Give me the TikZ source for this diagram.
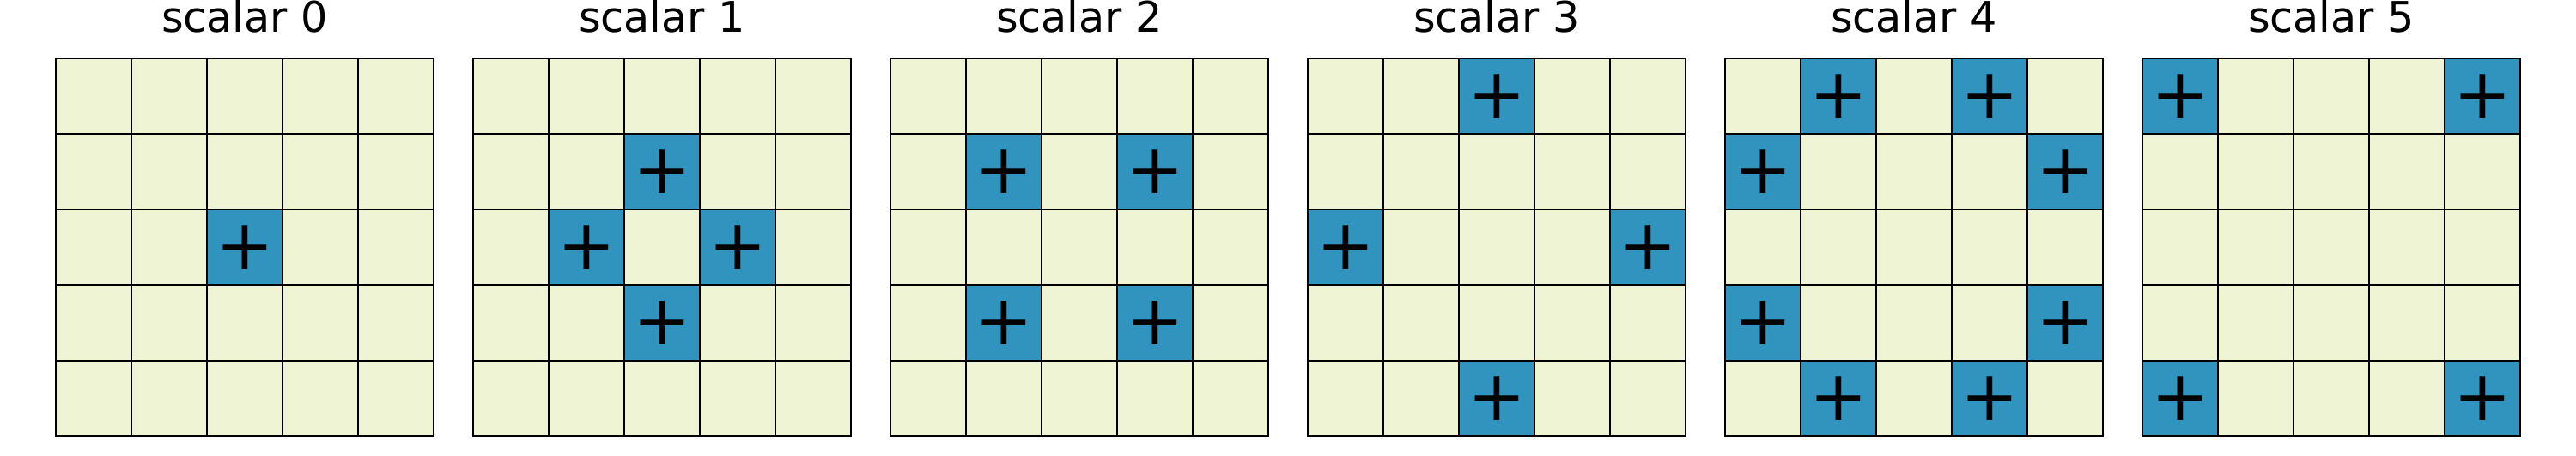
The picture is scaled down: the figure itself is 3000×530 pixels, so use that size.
\documentclass[tikz,border=0pt]{standalone}
\usepackage{fontspec}
\setmainfont{DejaVu Sans}
\definecolor{cellbg}{HTML}{EEF4D4}
\definecolor{cellblue}{HTML}{3094BE}
\begin{document}
\begin{tikzpicture}[x=0.01cm,y=-0.01cm,
  cell/.style={draw=black, line width=0.6pt, fill=cellbg, minimum width=0.88cm, minimum height=0.879cm, inner sep=0pt, outer sep=0pt},
  hot/.style={cell, fill=cellblue, font=\fontsize{23}{23}\selectfont},
  gridtitle/.style={anchor=base, inner sep=0pt, font=\fontsize{14}{14}\selectfont}]
\fill[white] (0,0) rectangle (3000,530);
\foreach \i in {0,...,5} {
  \node[gridtitle] (t\i) at ({285+486*\i}, 37.3) {scalar \i};
  \foreach \r in {0,...,4} {
    \foreach \c in {0,...,4} {
      \node[cell] (c\i-\r-\c) at ({65+486*\i+88*\c+44}, {68+87.9*\r+43.95}) {};
    }
  }
}
\foreach \i/\r/\c in {0/2/2,
  1/1/2, 1/2/1, 1/2/3, 1/3/2,
  2/1/1, 2/1/3, 2/3/1, 2/3/3,
  3/0/2, 3/2/0, 3/2/4, 3/4/2,
  4/0/1, 4/0/3, 4/1/0, 4/1/4, 4/3/0, 4/3/4, 4/4/1, 4/4/3,
  5/0/0, 5/0/4, 5/4/0, 5/4/4} {
  \node[hot] (p\i-\r-\c) at (c\i-\r-\c) {+};
}
\end{tikzpicture}
\end{document}
